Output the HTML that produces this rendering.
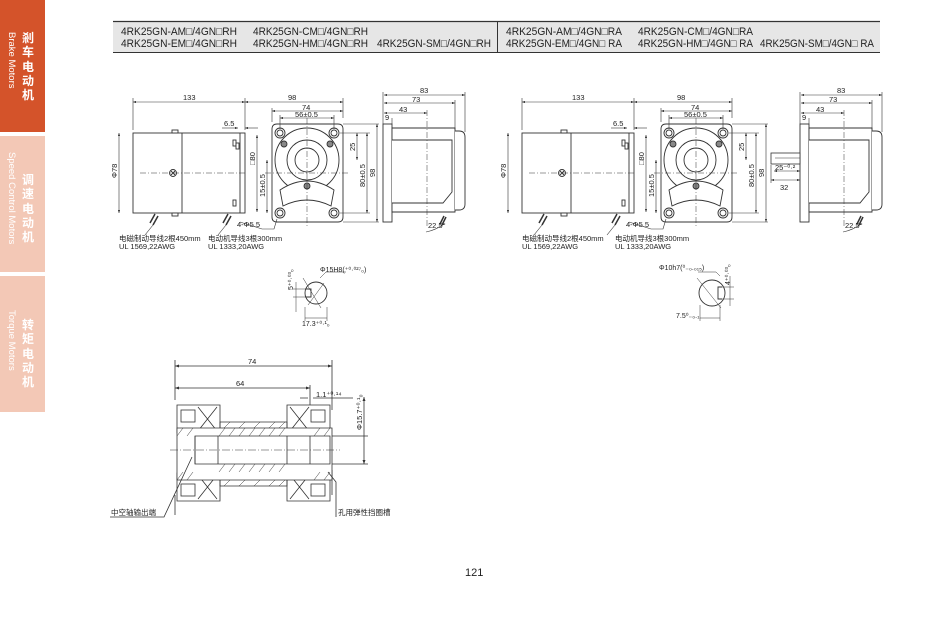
<!DOCTYPE html>
<html><head><meta charset="utf-8"><style>
html,body{margin:0;padding:0;background:#fff;}
body{width:950px;height:626px;overflow:hidden;position:relative;font-family:"Liberation Sans","Noto Sans CJK SC",sans-serif;}
.tab{position:absolute;left:0;width:45px;}
svg{position:absolute;left:0;top:0;}
text{font-family:"Liberation Sans","Noto Sans CJK SC",sans-serif;fill:#222;}
</style></head><body>
<div class="tab" style="top:0;height:132px;background:#d4532a"></div>
<div class="tab" style="top:136px;height:136px;background:#f3c8b6"></div>
<div class="tab" style="top:276px;height:136px;background:#f3c8b6"></div>
<svg width="950" height="626" viewBox="0 0 950 626">
<defs>
<marker id="a" viewBox="0 0 8 6" refX="8" refY="3" markerWidth="5" markerHeight="4" orient="auto-start-reverse"><path d="M0,0L8,3L0,6z" fill="#333"/></marker>
<g id="motor" stroke="#333" stroke-width="0.9" fill="#fff">
 <rect x="133" y="133" width="112" height="80"/>
 <line x1="182" y1="133" x2="182" y2="213"/>
 <line x1="240" y1="133" x2="240" y2="213"/>
 <rect x="172" y="130" width="6" height="3"/>
 <rect x="172" y="213" width="6" height="3"/>
 <rect x="233" y="140" width="3" height="6"/><rect x="236" y="143" width="3" height="6"/>
 <rect x="233" y="200" width="3" height="6"/>
 <circle cx="173" cy="173" r="3.5"/><path d="M171,171l4,4M175,171l-4,4"/>
 <path d="M150,223l5,-9M153,225l5,-9" stroke-width="1.5"/>
 <path d="M223,223l5,-9M226,225l5,-9" stroke-width="1.5"/>
 <line x1="140" y1="173" x2="245" y2="173" stroke-dasharray="6 2 1 2" stroke-width="0.5"/>
 <path d="M277,124h61q5,0 5,5v88q0,5 -5,5h-61q-5,0 -5,-5v-88q0,-5 5,-5z"/>
 <circle cx="307" cy="160" r="32"/>
 <circle cx="307" cy="160" r="20"/>
 <circle cx="307" cy="160" r="12"/>
 <path d="M280,190q27,-18 54,0l-3,16q-24,-12 -48,0z"/>
 <circle cx="280" cy="133" r="5"/><circle cx="280" cy="133" r="3"/>
 <circle cx="334" cy="133" r="5"/><circle cx="334" cy="133" r="3"/>
 <circle cx="280" cy="213" r="5"/><circle cx="280" cy="213" r="3"/>
 <circle cx="334" cy="213" r="5"/><circle cx="334" cy="213" r="3"/>
 <circle cx="284" cy="144" r="3" fill="#888"/><circle cx="330" cy="144" r="3" fill="#888"/><circle cx="307" cy="186" r="3" fill="#888"/>
 <line x1="265" y1="173" x2="350" y2="173" stroke-dasharray="6 2 1 2" stroke-width="0.5"/>
 <line x1="307" y1="118" x2="307" y2="228" stroke-dasharray="6 2 1 2" stroke-width="0.5"/>
</g>
<g id="side" stroke="#333" stroke-width="0.9" fill="#fff">
 <rect x="383" y="124" width="9" height="98"/>
 <path d="M392,128h63v84h-63z"/>
 <path d="M392,140h60v52l-9,11h-51"/>
 <path d="M455,131h4q6,0 6,6v67q0,6 -6,6h-4"/>
 <path d="M440,224l4,-8M442,225l4,-8" stroke-width="1.5"/>
 <line x1="427" y1="110" x2="427" y2="228" stroke-dasharray="6 2 1 2" stroke-width="0.5"/>
</g>
<g id="dims" stroke="#333" stroke-width="0.6" fill="none">
 <line x1="133" y1="102" x2="245" y2="102" marker-start="url(#a)" marker-end="url(#a)"/>
 <line x1="245" y1="102" x2="343" y2="102" marker-start="url(#a)" marker-end="url(#a)"/>
 <line x1="272" y1="111" x2="343" y2="111" marker-start="url(#a)" marker-end="url(#a)"/>
 <line x1="280" y1="118" x2="334" y2="118" marker-start="url(#a)" marker-end="url(#a)"/>
 <path d="M133,98v32M245,98v32M343,98v20M272,108v14M280,115v14M334,115v14"/>
 <line x1="222" y1="128" x2="238" y2="128" marker-end="url(#a)"/><line x1="258" y1="128" x2="245" y2="128" marker-end="url(#a)"/>
 <line x1="119" y1="133" x2="119" y2="213" marker-start="url(#a)" marker-end="url(#a)"/>
 <line x1="257" y1="135" x2="257" y2="212" marker-start="url(#a)" marker-end="url(#a)"/>
 <line x1="267" y1="160" x2="267" y2="213" marker-start="url(#a)" marker-end="url(#a)"/>
 <line x1="357" y1="133" x2="357" y2="160" marker-start="url(#a)" marker-end="url(#a)"/>
 <line x1="367" y1="133" x2="367" y2="213" marker-start="url(#a)" marker-end="url(#a)"/>
 <line x1="377" y1="124" x2="377" y2="222" marker-start="url(#a)" marker-end="url(#a)"/>
 <path d="M343,124h36M343,222h36M340,133h30M340,213h30"/>
 <path d="M240,222l22,7h12l3,-10"/>
 <path d="M153,225l-8,10M226,225l-8,10"/>
</g>
<g id="sdims" stroke="#333" stroke-width="0.6" fill="none">
 <line x1="384" y1="95" x2="465" y2="95" marker-start="url(#a)" marker-end="url(#a)"/>
 <line x1="384" y1="103" x2="455" y2="103" marker-start="url(#a)" marker-end="url(#a)"/>
 <line x1="384" y1="113" x2="427" y2="113" marker-start="url(#a)" marker-end="url(#a)"/>
 <path d="M383,92v32M465,92v40M455,100v30M392,118v6"/>
 <path d="M426,232q10,-2 18,-8"/>
</g>
</defs>

<rect x="113" y="21" width="767" height="32" fill="#e6e6e6"/>
<line x1="113" y1="21.5" x2="880" y2="21.5" stroke="#333" stroke-width="1.2"/>
<line x1="113" y1="52.5" x2="880" y2="52.5" stroke="#333" stroke-width="1"/>
<line x1="497.5" y1="21" x2="497.5" y2="53" stroke="#333" stroke-width="1"/>
<g font-size="11" lengthAdjust="spacingAndGlyphs">
<text x="121" y="35" textLength="116" lengthAdjust="spacingAndGlyphs">4RK25GN-AM□/4GN□RH</text><text x="253" y="35" textLength="115" lengthAdjust="spacingAndGlyphs">4RK25GN-CM□/4GN□RH</text>
<text x="121" y="47" textLength="116" lengthAdjust="spacingAndGlyphs">4RK25GN-EM□/4GN□RH</text><text x="253" y="47" textLength="115" lengthAdjust="spacingAndGlyphs">4RK25GN-HM□/4GN□RH</text><text x="377" y="47" textLength="114" lengthAdjust="spacingAndGlyphs">4RK25GN-SM□/4GN□RH</text>
<text x="506" y="35" textLength="116" lengthAdjust="spacingAndGlyphs">4RK25GN-AM□/4GN□RA</text><text x="638" y="35" textLength="115" lengthAdjust="spacingAndGlyphs">4RK25GN-CM□/4GN□RA</text>
<text x="506" y="47" textLength="116" lengthAdjust="spacingAndGlyphs">4RK25GN-EM□/4GN□ RA</text><text x="638" y="47" textLength="115" lengthAdjust="spacingAndGlyphs">4RK25GN-HM□/4GN□ RA</text><text x="760" y="47" textLength="114" lengthAdjust="spacingAndGlyphs">4RK25GN-SM□/4GN□ RA</text>
</g>

<g font-size="12" font-weight="bold">
<text x="22" y="42" style="fill:#fff">剎</text><text x="22" y="56" style="fill:#fff">车</text><text x="22" y="71" style="fill:#fff">电</text><text x="22" y="85" style="fill:#fff">动</text><text x="22" y="99" style="fill:#fff">机</text>
<text x="22" y="184" style="fill:#fff">调</text><text x="22" y="198" style="fill:#fff">速</text><text x="22" y="213" style="fill:#fff">电</text><text x="22" y="227" style="fill:#fff">动</text><text x="22" y="241" style="fill:#fff">机</text>
<text x="22" y="329" style="fill:#fff">转</text><text x="22" y="343" style="fill:#fff">矩</text><text x="22" y="358" style="fill:#fff">电</text><text x="22" y="372" style="fill:#fff">动</text><text x="22" y="386" style="fill:#fff">机</text>
</g>
<g font-size="9.5">
<text transform="translate(9,32) rotate(90)" style="fill:#fff">Brake Motors</text>
<text transform="translate(9,152) rotate(90)" style="fill:#fff">Speed Control Motors</text>
<text transform="translate(9,310) rotate(90)" style="fill:#fff">Torque Motors</text>
</g>

<use href="#motor"/><use href="#side"/><use href="#dims"/><use href="#sdims"/>
<g transform="translate(389,0)"><use href="#motor"/><use href="#dims"/></g>
<g transform="translate(417,0)"><use href="#side"/><use href="#sdims"/></g>
<g stroke="#333" stroke-width="0.8" fill="#fff">
<rect x="771" y="153" width="29" height="11"/>
<line x1="775" y1="158" x2="800" y2="158" stroke-width="0.5"/>
</g>
<g stroke="#333" stroke-width="0.6">
<line x1="774" y1="171" x2="800" y2="171" marker-start="url(#a)" marker-end="url(#a)"/>
<line x1="771" y1="180" x2="800" y2="180" marker-start="url(#a)" marker-end="url(#a)"/>
<path d="M771,165v18"/>
</g>

<g font-size="7.5">
<text x="183" y="100">133</text><text x="288" y="100">98</text><text x="302" y="110">74</text><text x="295" y="117">56±0.5</text>
<text x="224" y="126">6.5</text><text x="420" y="93">83</text><text x="412" y="102">73</text><text x="399" y="112">43</text>
<text x="385" y="120">9</text><text x="428" y="228">22.5°</text>
<text transform="translate(117,178) rotate(-90)">Φ78</text>
<text transform="translate(255,165) rotate(-90)">□80</text>
<text transform="translate(265,197) rotate(-90)">15±0.5</text>
<text transform="translate(355,151) rotate(-90)">25</text>
<text transform="translate(365,187) rotate(-90)">80±0.5</text>
<text transform="translate(375,177) rotate(-90)">98</text>
<text x="237" y="227">4-Φ5.5</text>
<text x="572" y="100">133</text><text x="677" y="100">98</text><text x="691" y="110">74</text><text x="684" y="117">56±0.5</text>
<text x="613" y="126">6.5</text><text x="837" y="93">83</text><text x="829" y="102">73</text><text x="816" y="112">43</text>
<text x="802" y="120">9</text><text x="845" y="228">22.5°</text>
<text x="775" y="170">25⁻⁰·²</text><text x="780" y="190">32</text>
<text transform="translate(506,178) rotate(-90)">Φ78</text>
<text transform="translate(644,165) rotate(-90)">□80</text>
<text transform="translate(654,197) rotate(-90)">15±0.5</text>
<text transform="translate(744,151) rotate(-90)">25</text>
<text transform="translate(754,187) rotate(-90)">80±0.5</text>
<text transform="translate(764,177) rotate(-90)">98</text>
<text x="626" y="227">4-Φ5.5</text>
</g>
<g font-size="7.5">
<text x="119" y="241">电磁制动导线2根450mm</text><text x="119" y="249">UL 1569,22AWG</text>
<text x="208" y="241">电动机导线3根300mm</text><text x="208" y="249">UL 1333,20AWG</text>
<text x="522" y="241">电磁制动导线2根450mm</text><text x="522" y="249">UL 1569,22AWG</text>
<text x="615" y="241">电动机导线3根300mm</text><text x="615" y="249">UL 1333,20AWG</text>
</g>

<g stroke="#333" stroke-width="0.9" fill="none">
<circle cx="316" cy="293" r="11"/><path d="M306,289h5v8h-5" fill="#fff"/>
<path d="M303,278l18,30M308,305l16,-22" stroke-width="0.5"/>
<path d="M320,278l6,-6h20" stroke-width="0.5"/>
<path d="M293,289h13M293,297h13M296,282v30M305,307v14M327,307v14M305,318h22" stroke-width="0.5"/>
<circle cx="712" cy="293" r="13"/><path d="M722,287h-4v12h4" fill="#fff"/>
<path d="M697,278l24,30" stroke-width="0.5"/><path d="M698,272h18l4,4" stroke-width="0.5"/>
<path d="M722,287h12M722,299h12M730,276v30M700,305v16M720,305v16M700,318h20" stroke-width="0.5"/>
</g>
<g font-size="7">
<text x="320" y="272">Φ15H8(⁺⁰·⁰²⁷₀)</text><text x="302" y="326">17.3⁺⁰·¹₀</text>
<text transform="translate(293,290) rotate(-90)">5⁺⁰·⁰³₀</text>
<text x="659" y="270">Φ10h7(⁰₋₀.₀₁₅)</text><text x="676" y="318">7.5⁰₋₀.₁</text>
<text transform="translate(730,285) rotate(-90)">4⁺⁰·⁰³₀</text>
</g>

<g stroke="#333" stroke-width="0.8" fill="none">
<path d="M175,360v40M332,360v50M175,495v20M332,470v25"/>
<line x1="175" y1="366" x2="332" y2="366" marker-start="url(#a)" marker-end="url(#a)"/>
<line x1="175" y1="388" x2="310" y2="388" marker-start="url(#a)" marker-end="url(#a)"/>
<path d="M310,385v20M300,398h8M313,398h40"/>
<line x1="364" y1="397" x2="364" y2="464" marker-start="url(#a)" marker-end="url(#a)"/>
<path d="M330,436h38M330,464h38"/>
<path d="M177,405h43v28h-43zM177,473h43v28h-43z" fill="#fff"/>
<path d="M287,405h43v28h-43zM287,473h43v28h-43z" fill="#fff"/>
<path d="M198,407l19,24M217,407l-19,24M198,475l19,24M217,475l-19,24M290,407l19,24M309,407l-19,24M290,475l19,24M309,475l-19,24"/>
<rect x="181" y="410" width="14" height="12" fill="#fff"/><rect x="181" y="484" width="14" height="12" fill="#fff"/>
<rect x="311" y="410" width="14" height="12" fill="#fff"/><rect x="311" y="484" width="14" height="12" fill="#fff"/>
<path d="M177,428h155v52h-155z" fill="#fff"/>
<path d="M195,436h135v28h-135z"/>
<path d="M220,428v-6h67v6M220,480v6h67v-6"/>
<path d="M195,436v28M218,436v28M287,436v28M310,436v28"/>
<g stroke-width="0.5">
<path d="M225,428l-6,8M235,428l-6,8M245,428l-6,8M255,428l-6,8M265,428l-6,8M275,428l-6,8M285,428l-6,8M230,422l-6,6M245,422l-6,6M260,422l-6,6M275,422l-6,6M285,422l-6,6"/>
<path d="M225,464l-6,8M235,464l-6,8M245,464l-6,8M255,464l-6,8M265,464l-6,8M275,464l-6,8M285,464l-6,8M230,480l-6,6M245,480l-6,6M260,480l-6,6M275,480l-6,6M285,480l-6,6"/>
<path d="M183,428l-6,8M193,428l-6,8M320,428l-6,8M330,428l-6,8M183,472l-6,8M193,472l-6,8M320,472l-6,8M330,472l-6,8"/>
</g>
<line x1="170" y1="450" x2="340" y2="450" stroke-dasharray="8 2 1 2" stroke-width="0.5"/>
<path d="M110,517h54l28,-60M336,517v-35l-8,-10"/>
</g>
<g font-size="7.5">
<text x="248" y="364">74</text><text x="236" y="386">64</text><text x="316" y="397">1.1⁺⁰·¹⁴</text>
<text transform="translate(362,430) rotate(-90)">Φ15.7⁺⁰·¹₀</text>
<text x="111" y="515">中空轴输出端</text><text x="338" y="515">孔用弹性挡圈槽</text>
</g>
<text x="465" y="576" font-size="11">121</text>
</svg>
</body></html>
